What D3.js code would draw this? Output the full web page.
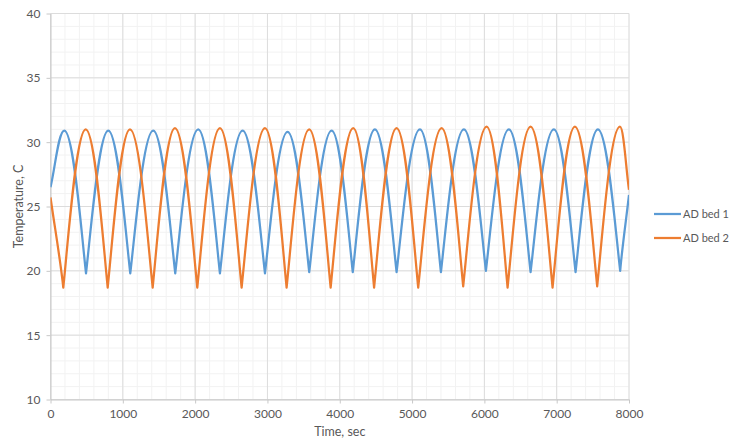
<!DOCTYPE html>
<html>
<head>
<meta charset="utf-8">
<script src="https://cdn.jsdelivr.net/npm/d3@7"></script>
<style>
  html, body { margin: 0; padding: 0; background: #fff; overflow: hidden; }
  svg { display: block; }
  text { font-family: Lato, "Open Sans", sans-serif; fill: #595959; }
</style>
</head>
<body>
<div id="graphic"></div>
<script>
// extremes of each bed (time in sec, temperature in C)
var bed1Time = [0, 191, 491, 799, 1103, 1421, 1725, 2043, 2343, 2657, 2966, 3279, 3578, 3888,
                4180, 4486, 4786, 5109, 5399, 5717, 6021, 6339, 6639, 6961, 7261, 7570, 7878, 8000];
var bed1Temp = [26.5, 30.9, 19.8, 30.9, 19.8, 30.9, 19.8, 31.0, 19.8, 30.9, 19.8, 30.8, 19.9, 30.9,
                19.9, 31.0, 19.9, 31.0, 19.9, 31.0, 20.0, 31.0, 19.9, 31.0, 19.9, 31.0, 20.0, 25.9];
var bed2Time = [0, 177, 487, 791, 1099, 1413, 1721, 2030, 2343, 2643, 2966, 3265, 3578, 3874,
                4186, 4475, 4786, 5085, 5409, 5707, 6031, 6321, 6639, 6943, 7252, 7560, 7874, 8000];
var bed2Temp = [25.7, 18.7, 31.0, 18.7, 31.0, 18.7, 31.1, 18.7, 31.1, 18.7, 31.1, 18.7, 31.0, 18.7,
                31.1, 18.7, 31.1, 18.7, 31.1, 18.8, 31.2, 18.7, 31.2, 18.7, 31.2, 18.8, 31.2, 26.3];
var seriesNames = ["AD bed 1", "AD bed 2"];
var seriesColors = ["#5b9bd5", "#ed7d31"];
var xTicks = [0, 1000, 2000, 3000, 4000, 5000, 6000, 7000, 8000];
var yTicks = [10, 15, 20, 25, 30, 35, 40];

var margin = {top: 13.5, right: 101, bottom: 40.5, left: 50.5},
    width = 730 - margin.left - margin.right,
    height = 440 - margin.top - margin.bottom;

var svg = d3.select("#graphic").append("svg")
  .attr("width", 730)
  .attr("height", 440);

var g = svg.append("g")
  .attr("transform", "translate(" + margin.left + "," + margin.top + ")");

var x = d3.scaleLinear().domain([0, 8000]).range([0, width]);
var y = d3.scaleLinear().domain([10, 40]).range([height, 0]);

// minor grid
g.selectAll(".minor-x")
  .data(d3.range(0, 8001, 200))
  .enter().append("line")
  .attr("x1", function(d) { return x(d); })
  .attr("x2", function(d) { return x(d); })
  .attr("y1", 0).attr("y2", height)
  .attr("stroke", "#f2f2f2");
g.selectAll(".minor-y")
  .data(d3.range(10, 41, 1))
  .enter().append("line")
  .attr("y1", function(d) { return y(d); })
  .attr("y2", function(d) { return y(d); })
  .attr("x1", 0).attr("x2", width)
  .attr("stroke", "#f2f2f2");

// major grid
g.selectAll(".major-x")
  .data(xTicks)
  .enter().append("line")
  .attr("x1", function(d) { return x(d); })
  .attr("x2", function(d) { return x(d); })
  .attr("y1", 0).attr("y2", height)
  .attr("stroke", "#dcdcdc");
g.selectAll(".major-y")
  .data(yTicks)
  .enter().append("line")
  .attr("y1", function(d) { return y(d); })
  .attr("y2", function(d) { return y(d); })
  .attr("x1", 0).attr("x2", width)
  .attr("stroke", "#dcdcdc");

// axes
var xAxis = g.append("g")
  .attr("transform", "translate(0," + height + ")")
  .call(d3.axisBottom(x).tickValues(xTicks).tickFormat(d3.format("d"))
    .tickSize(4).tickPadding(6).tickSizeOuter(0));
var yAxis = g.append("g")
  .call(d3.axisLeft(y).tickValues(yTicks).tickSize(4).tickPadding(6).tickSizeOuter(0));
[xAxis, yAxis].forEach(function(a) {
  a.select(".domain").attr("stroke", "#c8c8c8");
  a.selectAll(".tick line").attr("stroke", "#c8c8c8");
  a.selectAll(".tick text").style("font-size", "12px").attr("fill", "#595959")
    .style("font-family", "Lato, sans-serif");
});

// smooth wave: rounded peaks, pointed troughs
function curveWave(context) {
  var pts;
  return {
    areaStart: function() {}, areaEnd: function() {},
    lineStart: function() { pts = []; },
    point: function(px, py) { pts.push([px, py]); },
    lineEnd: function() {
      var kind = pts.map(function(p, i) {
        if (i === 0 || i === pts.length - 1) return "end";
        return p[1] < pts[i - 1][1] ? "peak" : "trough";
      });
      function handle(i, dx, dy, s) {
        var p = pts[i];
        if (kind[i] === "peak") return [p[0] + s * 0.42 * dx, p[1]];
        if (kind[i] === "trough") return [p[0] + s * 0.22 * dx, p[1] + s * 0.3 * dy];
        return [p[0] + s * dx / 3, p[1] + s * dy / 3];
      }
      context.moveTo(pts[0][0], pts[0][1]);
      for (var i = 1; i < pts.length; i++) {
        var dx = pts[i][0] - pts[i - 1][0], dy = pts[i][1] - pts[i - 1][1];
        var c1 = handle(i - 1, dx, dy, 1), c2 = handle(i, dx, dy, -1);
        context.bezierCurveTo(c1[0], c1[1], c2[0], c2[1], pts[i][0], pts[i][1]);
      }
    }
  };
}

svg.append("clipPath").attr("id", "clip")
  .append("rect").attr("width", width).attr("height", height);

var series = [
  {name: seriesNames[0], color: seriesColors[0], values: bed1Time.map(function(t, i) { return [t, bed1Temp[i]]; })},
  {name: seriesNames[1], color: seriesColors[1], values: bed2Time.map(function(t, i) { return [t, bed2Temp[i]]; })}
];

var line = d3.line()
  .x(function(d) { return x(d[0]); })
  .y(function(d) { return y(d[1]); })
  .curve(curveWave);

g.append("g").attr("clip-path", "url(#clip)")
  .selectAll(".series")
  .data(series)
  .enter().append("path")
  .attr("fill", "none")
  .attr("stroke", function(d) { return d.color; })
  .attr("stroke-width", 2.25)
  .attr("stroke-linejoin", "round")
  .attr("d", function(d) { return line(d.values); });

// axis titles
svg.append("text")
  .attr("x", margin.left + width / 2)
  .attr("y", 436)
  .attr("text-anchor", "middle")
  .style("font-size", "12.5px")
  .text("Time, sec");
svg.append("text")
  .attr("transform", "translate(23," + (margin.top + height / 2) + ") rotate(-90)")
  .attr("text-anchor", "middle")
  .style("font-size", "12.5px")
  .text("Temperature, C");

// legend
var legend = svg.selectAll(".legend")
  .data(series)
  .enter().append("g")
  .attr("transform", function(d, i) { return "translate(654," + (214 + i * 24) + ")"; });
legend.append("line")
  .attr("x1", 0).attr("x2", 27)
  .attr("stroke", function(d) { return d.color; })
  .attr("stroke-width", 2.25);
legend.append("text")
  .attr("x", 29).attr("y", 4)
  .style("font-size", "11px")
  .text(function(d) { return d.name; });
</script>
</body>
</html>
